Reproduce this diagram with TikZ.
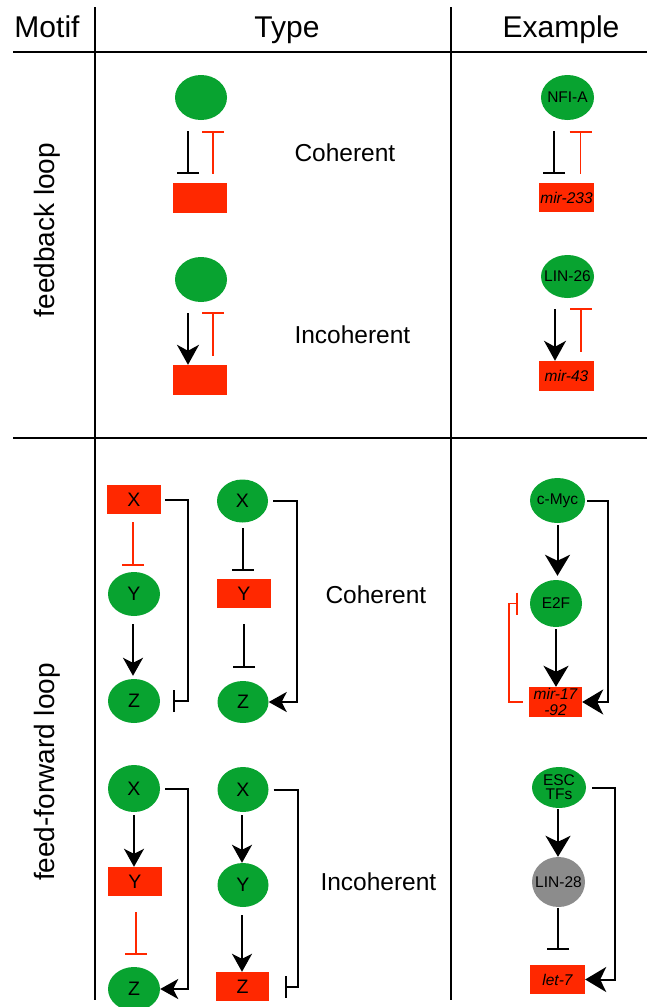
\documentclass[tikz,border=0pt]{standalone}
\usepackage{fontspec}
\setmainfont{Liberation Sans}
\usetikzlibrary{arrows.meta,shapes.geometric}
\definecolor{grn}{RGB}{8,163,48}
\definecolor{rd}{RGB}{255,40,0}
\definecolor{gry}{RGB}{140,140,140}
\begin{document}
\begin{tikzpicture}[x=1pt,y=-1pt,
  grid/.style={line width=2pt},
  hdr/.style={font=\fontsize{30}{34}\selectfont},
  side/.style={font=\fontsize{28}{32}\selectfont, rotate=90},
  typ/.style={font=\fontsize{24.5}{28}\selectfont, anchor=base west},
  ell/.style={ellipse, fill=grn, inner sep=0pt, minimum width=52pt, minimum height=45pt, font=\fontsize{19.5}{20}\selectfont},
  box/.style={rectangle, fill=rd, inner sep=0pt, minimum width=54pt, minimum height=30pt, font=\fontsize{19.5}{20}\selectfont},
  exl/.style={font=\fontsize{15.5}{14}\selectfont, inner sep=0pt, align=center},
  act/.style={line width=2pt, -{Stealth[length=18pt,width=20pt,inset=5pt]}},
  actb/.style={line width=2pt, -{Stealth[length=21pt,width=25pt,inset=6pt]}},
  inh/.style={line width=2pt, -{Bar[width=22pt]}},
  rinh/.style={draw=rd, line width=1.6pt, -{Bar[width=22pt]}}
]
\useasboundingbox (0,0) rectangle (647,1007);

% grid
\draw[grid] (13,52) coordinate (h1a) -- (647,52) coordinate (h1b);
\draw[grid] (13,437.5) coordinate (h2a) -- (647,437.5) coordinate (h2b);
\draw[grid] (94.5,7) coordinate (v1a) -- (94.5,1000) coordinate (v1b);
\draw[grid] (451,7) coordinate (v2a) -- (451,1000) coordinate (v2b);

% headers
\node[hdr, anchor=base] (hm) at (47,37) {Motif};
\node[hdr, anchor=base] (ht) at (287,37) {Type};
\node[hdr, anchor=base] (he) at (561,37) {Example};
\node[side] (fb) at (47,230) {feedback loop};
\node[side] (ff) at (47,772) {feed-forward loop};

% ---------- feedback, type ----------
\node[ell] (a1) at (201,97.5) {};
\node[box] (b1) at (200,198) {};
\draw[inh, shorten <=11pt, shorten >=9pt] ([xshift=-13pt]a1.south) -- ([xshift=-12pt]b1.north);
\draw[rinh, shorten <=9pt, shorten >=11pt] ([xshift=13pt]b1.north) -- ([xshift=12pt]a1.south);
\node[typ] (t1) at (291,161) {Coherent};

\node[ell] (a2) at (201,279.5) {};
\node[box] (b2) at (200,380) {};
\draw[act, -{Stealth[length=20pt,width=22pt,inset=6pt]}, shorten <=11pt] ([xshift=-13pt]a2.south) -- ([xshift=-12pt]b2.north);
\draw[rinh, shorten <=9pt, shorten >=10pt] ([xshift=13pt]b2.north) -- ([xshift=12pt]a2.south);
\node[typ] (t2) at (291,343) {Incoherent};

% ---------- feedback, example ----------
\node[ell, minimum width=53pt, label={[exl]center:NFI-A}] (e1) at (567.5,97.5) {};
\node[box, minimum width=55pt, minimum height=29pt, font=\fontsize{15.5}{14}\selectfont\itshape] (r1) at (566.5,197.5) {mir-233};
\draw[inh, shorten <=11pt, shorten >=9pt] ([xshift=-13.5pt]e1.south) -- ([xshift=-12.5pt]r1.north);
\draw[rinh, shorten <=9pt, shorten >=11pt] ([xshift=14pt]r1.north) -- ([xshift=13pt]e1.south);

\node[ell, minimum width=53pt, minimum height=43pt, label={[exl]center:LIN-26}] (e2) at (567.5,276.5) {};
\node[box, minimum width=55pt, font=\fontsize{15.5}{14}\selectfont\itshape] (r2) at (566.5,376) {mir-43};
\draw[act, -{Stealth[length=20pt,width=22pt,inset=6pt]}, shorten <=11pt] ([xshift=-12.5pt]e2.south) -- ([xshift=-11.5pt]r2.north);
\draw[rinh, shorten <=9pt, shorten >=10pt] ([xshift=14.5pt]r2.north) -- ([xshift=13.5pt]e2.south);

% ---------- feed-forward coherent, type ----------
\node[box, minimum height=29pt] (X1) at (134,499.5) {X};
\node[ell, minimum height=44pt] (Y1) at (134,594) {Y};
\node[ell, minimum height=44pt] (Z1) at (134,701) {Z};
\draw[rinh, shorten <=8pt, shorten >=6pt] ([xshift=-1pt]X1.south) -- ([xshift=-1pt]X1.south |- Y1.north);
\draw[act, shorten <=8pt, shorten >=3pt] ([xshift=-1pt]Y1.south) -- ([xshift=-1pt]Y1.south |- Z1.north);
\draw[inh, shorten <=4pt, shorten >=13pt] (X1.east) -- ++(27,0) |- (Z1.east);

\node[ell, minimum width=51pt, minimum height=43pt] (X2) at (242.5,501) {X};
\node[box, minimum height=29pt] (Y2) at (244,593.5) {Y};
\node[ell, minimum width=51pt, minimum height=42pt] (Z2) at (243,702) {Z};
\draw[inh, shorten <=5.5pt, shorten >=8pt] (X2.south) -- (X2.south |- Y2.north);
\draw[inh, shorten <=16pt, shorten >=13pt] (Y2.south) -- (Y2.south |- Z2.north);
\draw[act, shorten <=5pt] (X2.east) -- ++(29,0) |- (Z2.east);
\node[typ] (t3) at (322,603) {Coherent};

% ---------- feed-forward coherent, example ----------
\node[ell, minimum width=55pt, label={[exl]center:c-Myc}] (cM) at (557.5,500.5) {};
\node[ell, minimum width=52pt, minimum height=47pt, label={[exl]center:E2F}] (E2F) at (556,603.5) {};
\node[box, minimum width=53pt, font=\fontsize{15.5}{15.5}\selectfont\itshape, align=center] (mr) at (555.5,702) {mir-17\\-92};
\draw[actb, shorten <=2pt, shorten >=4pt] (cM.south) -- (cM.south |- E2F.north);
\draw[actb, shorten <=2pt] (E2F.south) -- (E2F.south |- mr.north);
\draw[actb, shorten <=2pt] (cM.east) -- ++(23,0) |- (mr.east);
\draw[rinh, shorten <=6pt, shorten >=12pt] (mr.west) -- ++(-20,0) |- (E2F.west);

% ---------- feed-forward incoherent, type ----------
\node[ell, minimum height=47pt] (X3) at (134,788.5) {X};
\node[box, minimum height=29pt] (Y3) at (135,881.5) {Y};
\node[ell, minimum height=44pt] (Z3) at (134,989) {Z};
\draw[act, shorten <=3pt] (X3.south) -- (X3.south |- Y3.north);
\draw[rinh, shorten <=16pt, shorten >=12pt] ([xshift=1pt]Y3.south) -- ([xshift=1pt]Y3.south |- Z3.north);
\draw[act, shorten <=5pt] (X3.east) -- ++(28,0) |- (Z3.east);

\node[ell, minimum width=51pt] (X4) at (243,789.5) {X};
\node[ell, minimum width=51pt, minimum height=44pt] (Y4) at (243,885) {Y};
\node[box, minimum width=53pt, minimum height=29pt] (Z4) at (242.5,986.5) {Z};
\draw[act, shorten <=3pt] ([xshift=-1pt]X4.south) -- ([xshift=-1pt]X4.south |- Y4.north);
\draw[act, shorten <=8pt] ([xshift=-1pt]Y4.south) -- ([xshift=-1pt]Y4.south |- Z4.north);
\draw[inh, shorten <=5pt, shorten >=16pt] (X4.east) -- ++(29,0) |- (Z4.east);
\node[typ] (t4) at (317,890) {Incoherent};

% ---------- feed-forward incoherent, example ----------
\node[ell, minimum width=54pt, minimum height=41pt, label={[exl]center:ESC\\TFs}] (esc) at (559,787.5) {};
\node[ell, fill=gry, minimum width=53pt, minimum height=50pt, label={[exl]center:LIN-28}] (lin) at (558.5,882) {};
\node[box, minimum width=55pt, minimum height=29pt, font=\fontsize{15.5}{14}\selectfont\itshape] (let) at (557.5,979.5) {let-7};
\draw[actb, shorten <=1pt] ([xshift=-1pt]esc.south) -- ([xshift=-1pt]esc.south |- lin.north);
\draw[inh, shorten <=1pt, shorten >=15pt] ([xshift=-0.5pt]lin.south) -- ([xshift=-0.5pt]lin.south |- let.north);
\draw[actb, shorten <=6pt] (esc.east) -- ++(29,0) |- (let.east);

\end{tikzpicture}
\end{document}
